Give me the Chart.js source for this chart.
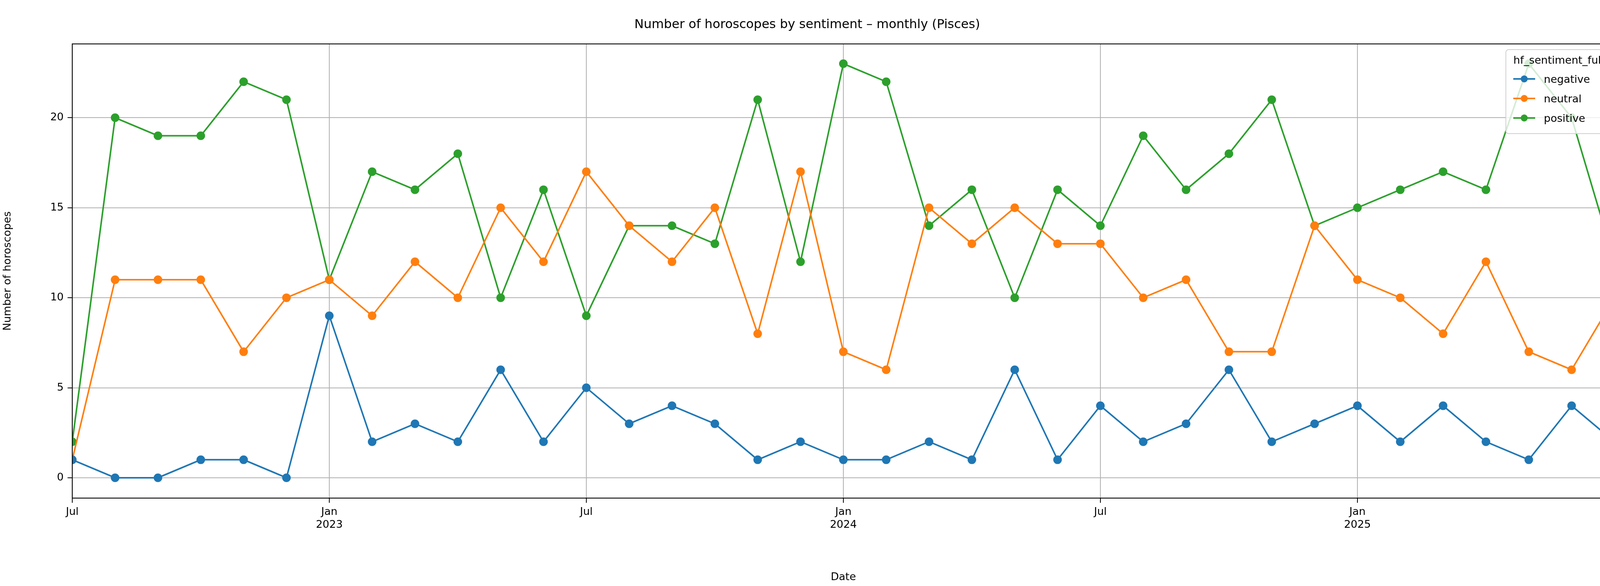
<!DOCTYPE html>
<html>
<head>
<meta charset="utf-8">
<script src="https://cdn.jsdelivr.net/npm/chart.js@4"></script>
<style>
  html, body { margin: 0; padding: 0; background: #fff; overflow: hidden; }
  #wrap { position: relative; width: 4200px; height: 1500px; overflow: hidden; }
  #c { display: block; width: 4200px; height: 1500px; }
  #legend { position: absolute; right: 70px; top: 126px; background: rgba(255,255,255,0.8);
    border: 2px solid #d0d0d0; border-radius: 8px; padding: 10px 22px 14px 18px;
    font-family: "DejaVu Sans"; font-size: 27px; color: #000; }
  #legend .t { text-align: center; margin-bottom: 8px; }
  #legend .r { display: flex; align-items: center; height: 50px; }
  #legend svg { margin-right: 22px; }
</style>
</head>
<body>
<div id="wrap">
<canvas id="c" width="4200" height="1500"></canvas>
<div id="legend"></div>
</div>
<script>
const months = [
  '2022-07','2022-08','2022-09','2022-10','2022-11','2022-12',
  '2023-01','2023-02','2023-03','2023-04','2023-05','2023-06',
  '2023-07','2023-08','2023-09','2023-10','2023-11','2023-12',
  '2024-01','2024-02','2024-03','2024-04','2024-05','2024-06',
  '2024-07','2024-08','2024-09','2024-10','2024-11','2024-12',
  '2025-01','2025-02','2025-03','2025-04','2025-05','2025-06','2025-07'
];
const negative = [1,0,0,1,1,0,9,2,3,2,6,2,5,3,4,3,1,2,1,1,2,1,6,1,4,2,3,6,2,3,4,2,4,2,1,4,2];
const neutral = [1,11,11,11,7,10,11,9,12,10,15,12,17,14,12,15,8,17,7,6,15,13,15,13,13,10,11,7,7,14,11,10,8,12,7,6,10];
const positive = [2,20,19,19,22,21,11,17,16,18,10,16,9,14,14,13,21,12,23,22,14,16,10,16,14,19,16,18,21,14,15,16,17,16,23,20,12];
const yTicks = [0, 5, 10, 15, 20];

const seriesNames = ['negative', 'neutral', 'positive'];
const colors = ['#1f77b4', '#ff7f0e', '#2ca02c'];
const allSeries = [negative, neutral, positive];

function xLabel(i) {
  const [y, m] = months[i].split('-');
  if (m === '01') return ['Jan', y];
  if (m === '07') return 'Jul';
  return '';
}

const font = { family: 'DejaVu Sans', size: 27 };

const frame = {
  id: 'frame',
  afterDraw(chart) {
    const a = chart.chartArea, ctx = chart.ctx;
    ctx.save();
    ctx.strokeStyle = '#000';
    ctx.lineWidth = 2.2;
    ctx.strokeRect(a.left, a.top, a.right - a.left, a.bottom - a.top);
    ctx.restore();
  }
};

new Chart(document.getElementById('c'), {
  type: 'line',
  data: {
    datasets: allSeries.map((s, k) => ({
      label: seriesNames[k],
      data: s.map((v, i) => ({ x: i, y: v })),
      borderColor: colors[k],
      backgroundColor: colors[k],
      borderWidth: 4,
      pointRadius: 9,
      pointHoverRadius: 9,
      tension: 0
    }))
  },
  options: {
    responsive: false,
    animation: false,
    devicePixelRatio: 1,
    layout: { padding: { left: 0, right: 67, bottom: 0 } },
    plugins: {
      legend: { display: false },
      tooltip: { enabled: false },
      title: {
        display: true,
        text: 'Number of horoscopes by sentiment \u2013 monthly (Pisces)',
        color: '#000',
        font: { family: 'DejaVu Sans', size: 32, weight: 'normal' },
        padding: { top: 44, bottom: 30 }
      }
    },
    scales: {
      x: {
        type: 'linear',
        min: 0, max: months.length - 1,
        afterBuildTicks(ax) { ax.ticks = months.map((m, i) => ({ value: i })).filter(t => xLabel(t.value) !== ''); },
        ticks: { callback: v => xLabel(v), color: '#000', font, maxRotation: 0, autoSkip: false, padding: 8 },
        grid: { color: '#b0b0b0', lineWidth: 2, tickLength: 12, tickColor: '#000' },
        border: { display: false },
        title: { display: true, text: 'Date', color: '#000', font, padding: { top: 8, bottom: 6 } },
        afterFit(ax) { ax.height = 225; }
      },
      y: {
        min: -1.13, max: 24.1,
        afterBuildTicks(ax) { ax.ticks = yTicks.map(v => ({ value: v })); },
        ticks: { color: '#000', font, padding: 10 },
        grid: { color: '#b0b0b0', lineWidth: 2, tickLength: 12, tickColor: '#000' },
        border: { display: false },
        title: { display: true, text: 'Number of horoscopes', color: '#000', font, padding: { bottom: 10 } },
        afterFit(ax) { ax.width = 185; }
      }
    }
  },
  plugins: [frame]
});

const lg = document.getElementById('legend');
let html = '<div class="t">hf_sentiment_full</div>';
seriesNames.forEach((n, k) => {
  html += '<div class="r"><svg width="56" height="24"><line x1="0" y1="12" x2="56" y2="12" stroke="' + colors[k] +
    '" stroke-width="4"/><circle cx="28" cy="12" r="9" fill="' + colors[k] + '"/></svg>' + n + '</div>';
});
lg.innerHTML = html;
</script>
</body>
</html>
